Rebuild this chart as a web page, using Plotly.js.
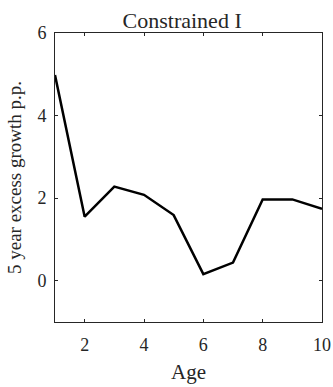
<!DOCTYPE html>
<html>
<head>
<meta charset="utf-8">
<script src="https://cdn.plot.ly/plotly-3.0.1.min.js"></script>
<style>html,body{margin:0;padding:0;background:#fff;}#chart{width:333px;height:387px;}</style>
</head>
<body>
<div id="chart"></div>
<script>
const ages = [1, 2, 3, 4, 5, 6, 7, 8, 9, 10];
const excessGrowth = [4.98, 1.55, 2.28, 2.08, 1.59, 0.16, 0.44, 1.97, 1.97, 1.74];
const xTicks = [2, 4, 6, 8, 10];
const yTicks = [0, 2, 4, 6];

const font = {family: '"Liberation Serif", "Times New Roman", serif', color: '#262626'};
const axisCommon = {
  showgrid: false, zeroline: false, showline: true, linecolor: '#262626', linewidth: 1,
  mirror: 'ticks', ticks: 'inside', ticklen: 3, tickcolor: '#262626', tickwidth: 1,
  tickfont: Object.assign({size: 18}, font)
};

Plotly.newPlot('chart', [{
  x: ages, y: excessGrowth, type: 'scatter', mode: 'lines',
  line: {color: '#000000', width: 2.5}
}], {
  width: 333, height: 387,
  margin: {l: 55, r: 11, t: 33, b: 65},
  paper_bgcolor: '#ffffff', plot_bgcolor: '#ffffff',
  showlegend: false,
  title: {text: 'Constrained I', font: Object.assign({size: 22}, font), x: 0.547, xanchor: 'center', y: 1, yref: 'paper', yanchor: 'bottom', pad: {b: 5}},
  xaxis: Object.assign({}, axisCommon, {range: [1, 10], tickvals: xTicks, ticktext: xTicks.map(String),
    ticklabelstandoff: 6,
    title: {text: 'Age', font: Object.assign({size: 21}, font), standoff: 10}}),
  yaxis: Object.assign({}, axisCommon, {range: [-1, 6], tickvals: yTicks, ticktext: yTicks.map(String),
    ticklabelstandoff: 4,
    title: {text: '5 year excess growth p.p.', font: Object.assign({size: 19}, font), standoff: 10}})
}, {displayModeBar: false, staticPlot: true});
</script>
</body>
</html>
